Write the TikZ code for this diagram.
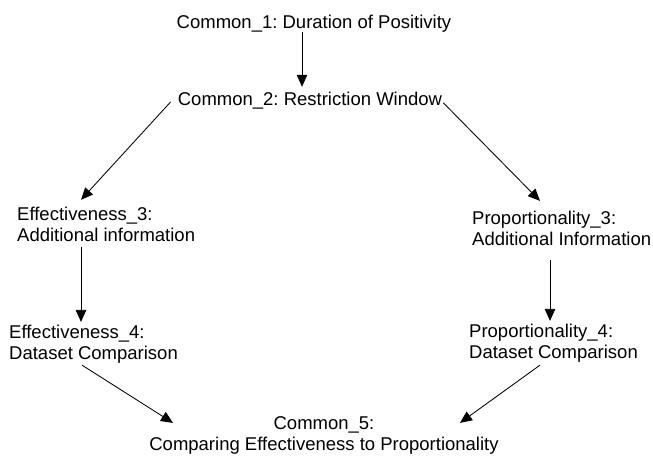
\documentclass[tikz,border=0pt]{standalone}
\usepackage{fontspec}
\setmainfont{Liberation Sans}
\usetikzlibrary{positioning,
                arrows.meta}                % arrow tips
\frenchspacing

\tikzset{
  steplabel/.style={inner sep=0pt, font=\fontsize{18.5}{21}\selectfont},
  flow/.style={-{Triangle[length=12pt,width=10.5pt]}, line width=0.85pt},
}

\begin{document}
\begin{tikzpicture}[x=1pt,y=-1pt]
        \useasboundingbox (0,0) rectangle (653,455);
        % common steps
        \node[steplabel, anchor=base] (common1) at (314,28.3) {Common\_1: Duration of Positivity};
        \node[steplabel, anchor=base] (common2) at (310,105) {Common\_2: Restriction Window};
        \node[steplabel, anchor=base, align=center] (common5) at (324,450) {Common\_5:\\Comparing Effectiveness to Proportionality};
        % effectiveness branch
        \node[steplabel, anchor=base west, align=left] (effect3) at (17,241.6) {Effectiveness\_3:\\Additional information};
        \node[steplabel, anchor=base west, align=left] (effect4) at (9,359) {Effectiveness\_4:\\Dataset Comparison};
        % proportionality branch
        \node[steplabel, anchor=base west, align=left] (prop3) at (472,245) {Proportionality\_3:\\Additional Information};
        \node[steplabel, anchor=base west, align=left] (prop4) at (469,358) {Proportionality\_4:\\Dataset Comparison};

        \draw[flow] ([xshift=-12pt]common1.south) -- ([shift={(-8,-4.6)}]common2.north);
        \draw[flow] ([shift={(-7,1.7)}]common2.west) -- ([shift={(64,-7.2)}]effect3.north west);
        \draw[flow] ([shift={(1,2.7)}]common2.east) -- ([shift={(68,-9.5)}]prop3.north west);
        \draw[flow] ([shift={(64,5.4)}]effect3.south west) -- ([shift={(72,-2.5)}]effect4.north west);
        \draw[flow] ([shift={(78,15)}]prop3.south west) -- ([shift={(81,-2.5)}]prop4.north west);
        \draw[flow] ([shift={(73,2.1)}]effect4.south west) -- ([shift={(-151,7)}]common5.north);
        \draw[flow] ([shift={(71,3.1)}]prop4.south west) -- ([shift={(136,7)}]common5.north);
\end{tikzpicture}
\end{document}
